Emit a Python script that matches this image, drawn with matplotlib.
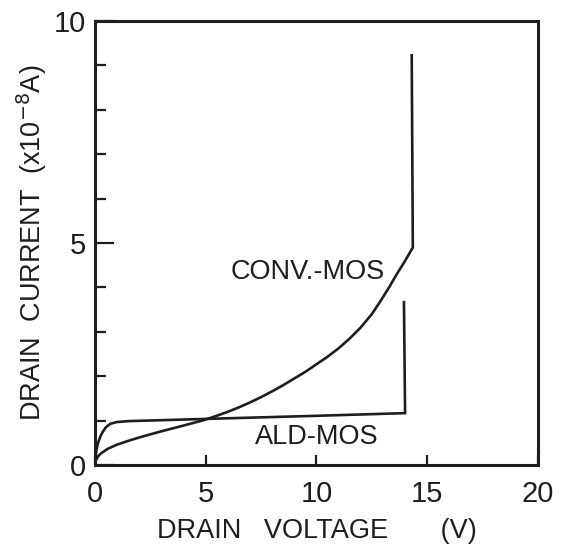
import matplotlib
matplotlib.use("Agg")
import matplotlib.pyplot as plt
from matplotlib.ticker import MultipleLocator

# ── data ──────────────────────────────────────────────────────────────────────

# conventional MOS: gradual rise, then breakdown (vertical) near 14.3 V
conv_v = [0.0, 0.05, 0.15, 0.3, 0.6, 1.0, 1.6, 2.2, 3.0, 4.0, 4.9, 5.5,
          6.0, 6.5, 7.0, 7.5, 8.0, 8.5, 9.0, 9.5, 10.0, 10.5, 11.0, 11.5,
          12.0, 12.5, 12.9, 13.3, 13.6, 14.0, 14.35, 14.3]
conv_i = [0.0, 0.1, 0.2, 0.27, 0.37, 0.46, 0.56, 0.65, 0.76, 0.89, 1.01,
          1.11, 1.2, 1.3, 1.41, 1.53, 1.66, 1.8, 1.95, 2.1, 2.27, 2.44,
          2.63, 2.85, 3.1, 3.4, 3.7, 4.02, 4.28, 4.6, 4.9, 9.23]

# ALD MOS: fast saturation, flat, breakdown near 14 V
ald_v = [0.0, 0.03, 0.08, 0.15, 0.25, 0.35, 0.5, 0.7, 1.0, 1.5, 5.0,
         10.0, 14.0, 13.95]
ald_i = [0.0, 0.15, 0.35, 0.5, 0.64, 0.74, 0.85, 0.93, 0.97, 0.99, 1.04,
         1.11, 1.17, 3.67]

xticks = [0, 5, 10, 15, 20]
yticks = [0, 5, 10]

ink = "#1e1e1e"

# ── figure ────────────────────────────────────────────────────────────────────

plt.rcParams["font.family"] = ["Liberation Sans", "DejaVu Sans"]

fig = plt.figure(figsize=(5.64, 5.55), dpi=100)
ax = fig.add_axes([0.168, 0.162, 0.786, 0.800])

ax.plot(conv_v, conv_i, color=ink, lw=1.9, solid_joinstyle="miter")
ax.plot(ald_v, ald_i, color=ink, lw=1.9, solid_joinstyle="miter")

ax.text(9.6, 4.35, "CONV.-MOS", fontsize=19.5, color=ink, ha="center", va="center")
ax.text(10.0, 0.63, "ALD-MOS", fontsize=19.5, color=ink, ha="center", va="center")

ax.set_xlim(0, 20)
ax.set_ylim(0, 10)
ax.set_xticks(xticks)
ax.set_yticks(yticks)
ax.yaxis.set_minor_locator(MultipleLocator(1))

ax.tick_params(axis="both", which="both", direction="in", colors=ink,
               labelsize=21, width=1.6)
ax.tick_params(axis="x", which="major", length=7, pad=11)
ax.tick_params(axis="y", which="major", length=14, pad=6)
ax.tick_params(axis="y", which="minor", length=8)

for s in ax.spines.values():
    s.set_linewidth(2.2)
    s.set_color(ink)

ax.set_xlabel("DRAIN   VOLTAGE       (V)", fontsize=19.5, color=ink, labelpad=7)
ax.set_ylabel(r"DRAIN  CURRENT  (x10$^{-8}$A)", fontsize=19.5, color=ink, labelpad=4)

fig.savefig("out.png", dpi=100)
